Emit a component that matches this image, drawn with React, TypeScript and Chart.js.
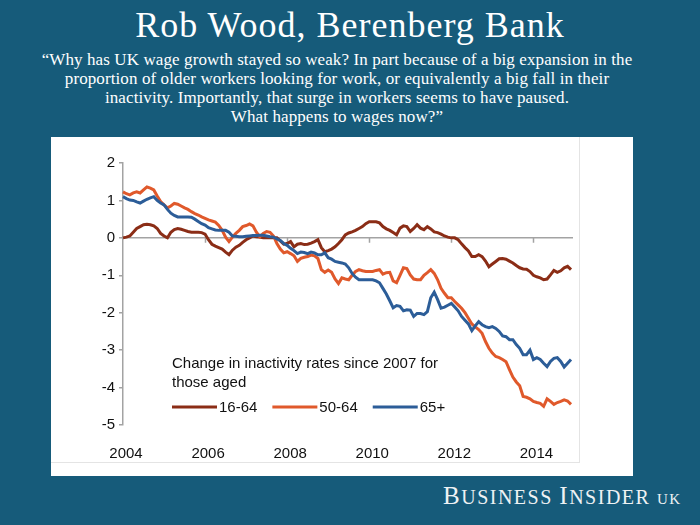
import React, { useEffect, useRef } from 'react';
import { Chart, registerables } from 'chart.js';

Chart.register(...registerables);

// ---------- data ----------
const START_YEAR = 2004;
const MONTH_COUNT = 132;
const MONTH_LABELS: string[] = Array.from({ length: MONTH_COUNT }, (_, i) =>
  `${START_YEAR + Math.floor(i / 12)}-${String((i % 12) + 1).padStart(2, '0')}`
);
const X_TICK_YEARS = ['2004', '2006', '2008', '2010', '2012', '2014'];
const Y_MIN = -5;
const Y_MAX = 2;
const SERIES_NAMES = ['16-64', '50-64', '65+'];
const LEGEND_TITLE = ['Change in inactivity rates since 2007 for', 'those aged'];

const AGE_16_64 = [
  0.0, 0.02, 0.05, 0.15, 0.25, 0.3, 0.35, 0.36, 0.35, 0.32, 0.25, 0.12,
  0.05, 0.0, 0.15, 0.22, 0.25, 0.23, 0.2, 0.17, 0.15, 0.15, 0.15, 0.14,
  0.1, -0.05, -0.17, -0.22, -0.26, -0.3, -0.38, -0.45, -0.33, -0.25, -0.2, -0.12,
  -0.05, 0.0, 0.05, 0.03, 0.02, 0.0, 0.0, 0.0, 0.0, 0.0, -0.08, -0.17,
  -0.15, -0.1, -0.24, -0.17, -0.15, -0.18, -0.17, -0.14, -0.1, -0.05, -0.26, -0.37,
  -0.34, -0.3, -0.24, -0.15, -0.05, 0.08, 0.13, 0.16, 0.2, 0.25, 0.3, 0.38,
  0.43, 0.43, 0.43, 0.4, 0.3, 0.24, 0.2, 0.14, 0.08, 0.26, 0.32, 0.3,
  0.17, 0.25, 0.35, 0.26, 0.22, 0.3, 0.24, 0.16, 0.14, 0.1, 0.05, 0.02,
  0.0, 0.0, -0.05, -0.16, -0.26, -0.35, -0.5, -0.5, -0.45, -0.5, -0.62, -0.77,
  -0.7, -0.63, -0.56, -0.55, -0.57, -0.62, -0.67, -0.74, -0.8, -0.83, -0.84, -0.9,
  -1.0, -1.04, -1.07, -1.12, -1.1, -0.99, -0.87, -0.92, -0.88, -0.8, -0.76, -0.85,
];

const AGE_50_64 = [
  1.23, 1.18, 1.15, 1.2, 1.23, 1.2, 1.28, 1.36, 1.33, 1.28, 1.12, 0.97,
  0.88, 0.8, 0.85, 0.92, 0.9, 0.85, 0.8, 0.76, 0.7, 0.65, 0.61, 0.56,
  0.52, 0.48, 0.45, 0.42, 0.33, 0.2, 0.02, -0.1, 0.02, 0.12, 0.2, 0.3,
  0.33, 0.37, 0.32, 0.15, 0.03, 0.12, 0.17, 0.15, 0.05, -0.15, -0.3, -0.4,
  -0.37, -0.42, -0.48, -0.63, -0.55, -0.52, -0.5, -0.46, -0.48, -0.55, -0.85, -0.92,
  -0.86, -0.92, -1.1, -1.22, -1.07, -1.1, -1.12, -1.0, -0.9, -0.85, -0.88, -0.9,
  -0.9, -0.9, -0.87, -0.85, -0.97, -0.93, -0.92, -1.15, -1.2, -1.0, -0.8, -0.82,
  -0.99, -1.1, -1.12, -1.12, -1.0, -0.93, -0.85, -0.95, -1.12, -1.35, -1.48, -1.6,
  -1.6, -1.7, -1.79, -1.88, -2.0, -2.15, -2.3, -2.38, -2.45, -2.55, -2.77, -2.95,
  -3.08, -3.17, -3.2, -3.25, -3.31, -3.52, -3.72, -3.85, -3.95, -4.24, -4.26, -4.3,
  -4.37, -4.4, -4.42, -4.5, -4.3, -4.37, -4.45, -4.4, -4.37, -4.33, -4.36, -4.45,
];

const AGE_65_PLUS = [
  1.1, 1.05, 1.01, 1.0, 0.96, 0.93, 0.98, 1.03, 1.07, 1.1, 1.0, 0.93,
  0.88, 0.76, 0.66, 0.6, 0.56, 0.56, 0.56, 0.56, 0.55, 0.5, 0.44, 0.38,
  0.34, 0.27, 0.24, 0.21, 0.2, 0.2, 0.2, 0.15, 0.05, 0.04, 0.03, 0.03,
  0.04, 0.05, 0.06, 0.06, 0.07, 0.07, 0.05, 0.03, 0.02, -0.03, -0.07, -0.15,
  -0.2, -0.28, -0.34, -0.42, -0.38, -0.39, -0.42, -0.38, -0.4, -0.45, -0.45, -0.4,
  -0.53, -0.57, -0.63, -0.65, -0.67, -0.7, -0.8, -0.95, -1.05, -1.12, -1.12, -1.12,
  -1.12, -1.12, -1.15, -1.2, -1.35, -1.5, -1.68, -1.87, -1.81, -1.83, -1.95, -1.92,
  -1.93, -2.1, -2.02, -2.02, -2.05, -1.97, -1.6, -1.45, -1.65, -1.88, -1.85, -1.8,
  -1.75, -1.85, -1.95, -2.1, -2.2, -2.3, -2.48, -2.35, -2.24, -2.32, -2.37, -2.4,
  -2.37, -2.42, -2.5, -2.62, -2.64, -2.72, -2.72, -2.85, -2.95, -3.12, -3.12, -3.0,
  -3.25, -3.2, -3.25, -3.35, -3.44, -3.3, -3.22, -3.2, -3.3, -3.45, -3.35, -3.25,
];

const SERIES_VALUES = [AGE_16_64, AGE_50_64, AGE_65_PLUS];
const SERIES_COLORS = ['#8b2d16', '#e0592b', '#2c5d98'];

// ---------- styles ----------
const BG = '#165b7a';
const AXIS_GRAY = '#a3a3a3';
const FONT = '"Liberation Sans", Arial, sans-serif';

const isYearTick = (label: string) =>
  label.endsWith('-01') && X_TICK_YEARS.includes(label.slice(0, 4));

const zeroLinePlugin = {
  id: 'zeroLine',
  beforeDatasetsDraw(chart: any) {
    const { ctx, chartArea, scales } = chart;
    const x = scales.x;
    const y = scales.y;
    const y0 = y.getPixelForValue(0);
    ctx.save();
    ctx.strokeStyle = AXIS_GRAY;
    ctx.lineWidth = 1.5;
    ctx.beginPath();
    ctx.moveTo(chartArea.left, y0);
    ctx.lineTo(chartArea.right + 2, y0);
    MONTH_LABELS.forEach((lab, i) => {
      if (i > 0 && isYearTick(lab)) {
        const px = Math.round(x.getPixelForValue(i)) + 0.5;
        ctx.moveTo(px, y0);
        ctx.lineTo(px, y0 + 5);
      }
    });
    ctx.stroke();
    ctx.restore();
  },
};

const legendPlugin = {
  id: 'customLegend',
  afterDraw(chart: any) {
    const { ctx, chartArea } = chart;
    const left = chartArea.left + 49;
    const top = chartArea.top + 205;
    ctx.save();
    ctx.font = `15px ${FONT}`;
    ctx.fillStyle = '#111';
    ctx.textBaseline = 'alphabetic';
    ctx.textAlign = 'left';
    LEGEND_TITLE.forEach((t, i) => ctx.fillText(t, left, top + i * 19));
    let cx = left;
    const rowY = top + 39;
    chart.data.datasets.forEach((ds: any) => {
      ctx.strokeStyle = ds.borderColor;
      ctx.lineWidth = 3;
      ctx.beginPath();
      ctx.moveTo(cx, rowY);
      ctx.lineTo(cx + 45, rowY);
      ctx.stroke();
      ctx.fillText(ds.label, cx + 47, rowY + 5);
      cx += 47 + ctx.measureText(ds.label).width + 15;
    });
    ctx.restore();
  },
};

function ChartCanvas() {
  const ref = useRef<HTMLCanvasElement | null>(null);
  useEffect(() => {
    if (!ref.current) return;
    Chart.defaults.font.family = FONT;
    const chart = new Chart(ref.current, {
      type: 'line',
      data: {
        labels: MONTH_LABELS,
        datasets: SERIES_NAMES.map((name, i) => ({
          label: name,
          data: SERIES_VALUES[i],
          borderColor: SERIES_COLORS[i],
          backgroundColor: SERIES_COLORS[i],
          borderWidth: 3,
          pointRadius: 0,
          tension: 0,
          fill: false,
          order: 3 - i,
        })),
      },
      options: {
        responsive: false,
        animation: false,
        layout: { padding: { left: 0, top: 26, right: 62, bottom: 0 } },
        plugins: { legend: { display: false }, tooltip: { enabled: false } },
        scales: {
          x: {
            type: 'category',
            offset: false,
            grid: { display: false },
            border: { display: false },
            ticks: {
              autoSkip: false,
              maxRotation: 0,
              minRotation: 0,
              padding: 12,
              labelOffset: 3,
              color: '#111',
              font: { size: 15 },
              callback: function (this: any, value: any) {
                const lab = MONTH_LABELS[value as number];
                return isYearTick(lab) ? lab.slice(0, 4) : null;
              },
            },
            afterFit(scale: any) {
              scale.height = 51;
            },
          },
          y: {
            min: Y_MIN,
            max: Y_MAX,
            grid: {
              drawOnChartArea: false,
              drawTicks: true,
              tickLength: 4,
              color: AXIS_GRAY,
              lineWidth: 1.5,
            },
            border: { display: true, color: AXIS_GRAY, width: 1.5 },
            ticks: {
              stepSize: 1,
              padding: 4,
              color: '#111',
              font: { size: 15 },
              callback: (v: any) => String(v),
            },
            afterFit(scale: any) {
              scale.width = 72;
            },
          },
        },
      },
      plugins: [zeroLinePlugin, legendPlugin],
    } as any);
    return () => chart.destroy();
  }, []);
  return <canvas ref={ref} width={582} height={339} style={{ position: 'absolute', left: 0, top: 0 }} />;
}

export default function App() {
  const serif = '"Liberation Serif", "Times New Roman", serif';
  return (
    <div
      style={{
        position: 'absolute',
        left: 0,
        top: 0,
        width: 700,
        height: 525,
        background: BG,
        overflow: 'hidden',
        fontFamily: serif,
        color: '#fff',
      }}
    >
      <div
        style={{
          position: 'absolute',
          left: 0,
          top: 7,
          width: 700,
          textAlign: 'center',
          fontSize: 36,
          lineHeight: '36px',
          letterSpacing: 1,
        }}
      >
        Rob Wood, Berenberg Bank
      </div>
      <div
        style={{
          position: 'absolute',
          left: 0,
          top: 50,
          width: 674,
          textAlign: 'center',
          fontSize: 17,
          lineHeight: '19px',
          letterSpacing: 0.1,
        }}
      >
        “Why has UK wage growth stayed so weak? In part because of a big expansion in the
        <br />
        proportion of older workers looking for work, or equivalently a big fall in their
        <br />
        inactivity. Importantly, that surge in workers seems to have paused.
        <br />
        What happens to wages now?”
      </div>
      <div
        style={{
          position: 'absolute',
          left: 51,
          top: 137,
          width: 582,
          height: 339,
          background: '#fff',
        }}
      >
        <div
          style={{
            position: 'absolute',
            left: 0,
            top: 0,
            width: 528,
            height: 325,
            borderRight: '1px solid #e4e4e4',
            borderBottom: '1px solid #e4e4e4',
          }}
        />
        <ChartCanvas />
      </div>
      <div
        style={{
          position: 'absolute',
          left: 443,
          top: 483,
          whiteSpace: 'nowrap',
          color: '#eef2f4',
          lineHeight: '25px',
          letterSpacing: 1.5,
        }}
      >
        <span style={{ fontSize: 25 }}>B</span>
        <span style={{ fontSize: 20 }}>USINESS </span>
        <span style={{ fontSize: 25 }}>I</span>
        <span style={{ fontSize: 20 }}>NSIDER </span>
        <span style={{ fontSize: 15 }}>UK</span>
      </div>
    </div>
  );
}
